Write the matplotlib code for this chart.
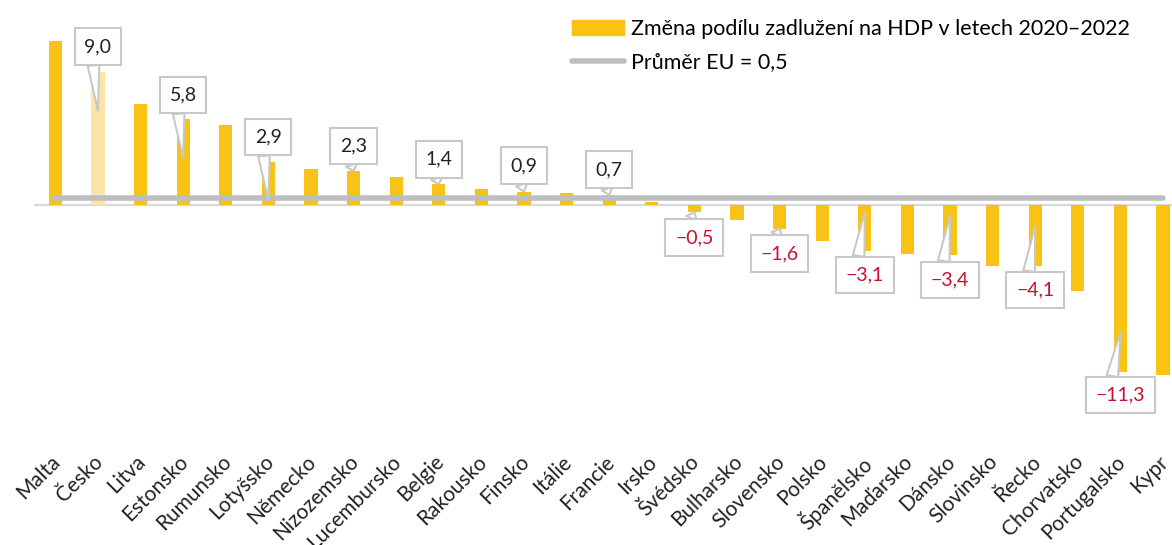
import matplotlib
matplotlib.use("Agg")
import matplotlib.pyplot as plt
import matplotlib.transforms as mtransforms
from matplotlib.patches import Patch
from matplotlib.lines import Line2D

plt.rcParams['font.family'] = ['Lato', 'DejaVu Sans']

countries = ['Malta', 'Česko', 'Litva', 'Estonsko', 'Rumunsko', 'Lotyšsko', 'Německo',
             'Nizozemsko', 'Lucembursko', 'Belgie', 'Rakousko', 'Finsko', 'Itálie',
             'Francie', 'Irsko', 'Švédsko', 'Bulharsko', 'Slovensko', 'Polsko',
             'Španělsko', 'Maďarsko', 'Dánsko', 'Slovinsko', 'Řecko', 'Chorvatsko',
             'Portugalsko', 'Kypr']
values = [11.1, 9.0, 6.8, 5.8, 5.4, 2.9, 2.4, 2.3, 1.9, 1.4, 1.1, 0.9, 0.8, 0.7, 0.2,
          -0.5, -1.0, -1.6, -2.4, -3.1, -3.3, -3.4, -4.1, -4.1, -5.8, -11.3, -11.5]
eu_avg = 0.5
highlight = 'Česko'
labeled = ['Česko', 'Estonsko', 'Lotyšsko', 'Nizozemsko', 'Belgie', 'Finsko', 'Francie',
           'Švédsko', 'Slovensko', 'Španělsko', 'Dánsko', 'Řecko', 'Portugalsko']

# callout layout: where the tail points (fraction of bar) and box offset in pixels
tip_frac = [0.71, 0.55, 0.12, 1.0, 1.0, 1.0, 1.0, 1.0, 1.0, 0.15, 0.22, 0.35, 0.76]
box_dy = [64, 63, 63, 25, 25, 26, 25, -25, -25, -63, -64, -64, -63]

YELLOW = '#F9C315'
LIGHT = '#FCE4A6'
GRAY = '#BDBEC0'

fig = plt.figure(figsize=(11.72, 5.45), dpi=100)
ax = fig.add_axes([34 / 1172, 110 / 545, 1 - 34 / 1172, 435 / 545])

x = list(range(len(countries)))
colors = [LIGHT if c == highlight else YELLOW for c in countries]
ax.bar(x, values, width=0.31, color=colors, zorder=2)

ax.axhline(0, color='#D9D9D9', lw=1.6, zorder=1)
ax.plot([0, len(countries) - 1], [eu_avg, eu_avg], color=GRAY, lw=4, solid_capstyle='round', zorder=3)

ax.set_xlim(-0.5, 26.21)
ax.set_ylim(-230 / 14.8, 205 / 14.8)
for s in ax.spines.values():
    s.set_visible(False)
ax.set_yticks([])
ax.set_xticks(x)
ax.set_xticklabels(countries, rotation=45, ha='right', va='top', rotation_mode='anchor',
                   fontsize=15, color='#222222')
ax.tick_params(axis='x', length=0, pad=12)
off = mtransforms.ScaledTranslation(-0.05, 0, fig.dpi_scale_trans)
for lbl in ax.get_xticklabels():
    lbl.set_transform(lbl.get_transform() + off)

for name, f, dy in zip(labeled, tip_frac, box_dy):
    i = countries.index(name)
    v = values[i]
    txt = f"{v:.1f}".replace('.', ',').replace('-', '\u2212')
    col = '#C8102E' if v < 0 else '#222222'
    ax.annotate(txt, xy=(i, v * f), xytext=(0, dy), textcoords='offset pixels',
                ha='center', va='center', fontsize=14, color=col, zorder=5,
                bbox=dict(boxstyle='square,pad=0.5', fc='white', ec='#C8C8C8', lw=1.5),
                arrowprops=dict(arrowstyle='wedge,tail_width=0.6', fc='white', ec='#C8C8C8',
                                lw=1.5, shrinkA=0, shrinkB=0,
                                relpos=(0.3, 0.0 if dy > 0 else 1.0)))

handles = [Patch(color=YELLOW), Line2D([0], [0], color=GRAY, lw=4, solid_capstyle='round')]
fig.legend(handles, ['Změna podílu zadlužení na HDP v letech 2020–2022', 'Průměr EU = 0,5'],
           loc='upper left', bbox_to_anchor=(566 / 1172, 1 - 13 / 545), frameon=False,
           fontsize=15.5, handlelength=2.4, handletextpad=0.3, labelspacing=0.6,
           borderaxespad=0, borderpad=0.3)

fig.savefig('out.png', dpi=100)
